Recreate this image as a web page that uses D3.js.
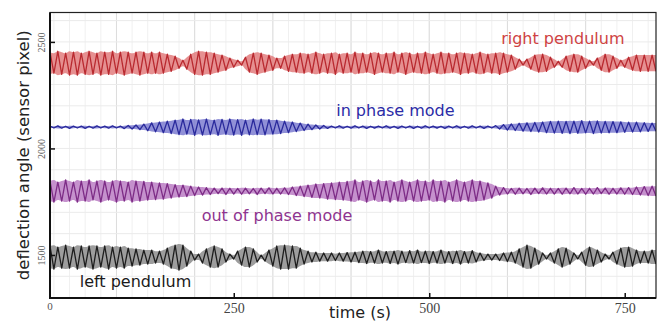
<!DOCTYPE html>
<html>
<head>
<meta charset="utf-8">
<script src="https://cdn.jsdelivr.net/npm/d3@7"></script>
<style>
  html, body { margin: 0; padding: 0; background: #fff; }
  svg { display: block; }
</style>
</head>
<body>
<div id="chart"></div>
<script>
const WIDTH = 659;
const HEIGHT = 322;
const MARGIN = {top: 12.5, right: 3, bottom: 24, left: 50};

// recordings are sampled once per swing peak
const SAMPLE_START = 15;
const SAMPLE_STEP = 5;

// peak deflection of each swing relative to the rest position (sensor pixel)
const rightPendulum = [
  52,-47,56,-52,47,-56,52,-56,47,-52,
  56,-52,47,-56,52,-52,56,-47,52,-56,
  52,-47,52,-56,52,-47,52,-47,52,-47,
  42,-38,33,-24,14,-28,42,-52,56,-56,
  52,-52,47,-42,38,-33,24,-19,14,-9,
  28,-42,47,-52,47,-42,38,-33,24,-24,
  33,-38,42,-42,47,-47,42,-47,52,-47,
  42,-47,47,-52,42,-47,47,-42,52,-47,
  47,-42,47,-52,47,-42,47,-47,52,-42,
  47,-52,47,-42,47,-47,52,-47,42,-47,
  52,-47,47,-42,47,-52,47,-47,42,-47,
  52,-47,42,-47,47,-52,47,-42,38,-28,
  19,-9,19,-28,38,-42,42,-38,28,-19,
  9,-19,33,-38,42,-42,33,-24,14,-9,
  24,-33,42,-42,33,-24,14,-19,28,-33,
  38,-38,38,-38,38,-38
];
const inPhaseMode = [
  5,-4,6,-5,4,-6,5,-4,5,-6,
  4,-5,6,-4,5,-5,6,-4,5,-7,
  8,-9,10,-12,14,-17,20,-22,24,-26,
  28,-30,33,-35,38,-33,36,-38,34,-37,
  38,-35,33,-38,36,-34,38,-37,35,-38,
  33,-36,38,-35,37,-36,35,-33,33,-30,
  28,-26,24,-21,19,-16,14,-12,10,-9,
  8,-6,5,-4,6,-5,4,-5,6,-4,
  5,-6,4,-5,5,-4,6,-5,4,-6,
  5,-4,5,-6,4,-5,6,-4,5,-5,
  4,-6,5,-4,6,-5,4,-5,6,-4,
  5,-6,5,-4,7,-9,12,-14,15,-16,
  18,-19,20,-21,22,-23,24,-26,27,-28,
  28,-29,27,-30,28,-29,30,-27,28,-30,
  29,-28,27,-27,26,-26,25,-24,23,-23,
  23,-22,21,-20,19,-19
];
const outOfPhaseMode = [
  47,-52,42,-47,52,-47,42,-52,47,-47,
  52,-42,47,-52,47,-42,47,-52,47,-47,
  42,-52,47,-47,45,-42,42,-40,38,-38,
  35,-33,30,-28,28,-26,23,-21,19,-19,
  16,-16,14,-12,14,-16,13,-14,12,-15,
  14,-13,12,-16,14,-12,15,-14,13,-14,
  15,-16,19,-21,23,-26,28,-30,33,-33,
  35,-38,38,-40,42,-42,45,-47,52,-42,
  47,-52,47,-42,52,-47,47,-52,42,-47,
  52,-47,42,-47,52,-47,47,-42,52,-47,
  47,-52,42,-47,52,-47,42,-47,52,-47,
  47,-42,38,-33,23,-19,16,-14,12,-15,
  14,-13,12,-16,14,-12,15,-14,13,-14,
  12,-15,14,-13,16,-14,12,-15,13,-14,
  16,-12,14,-15,13,-14,15,-15,16,-16,
  19,-19,21,-21,23,-23
];
const leftPendulum = [
  52,-56,47,-52,56,-52,47,-56,52,-47,
  52,-56,52,-47,52,-56,47,-52,47,-52,
  42,-42,38,-38,33,-33,33,-28,28,-33,
  42,-52,56,-61,56,-42,28,-14,14,-28,
  38,-47,52,-47,38,-23,14,-9,28,-38,
  47,-47,38,-23,9,-19,33,-42,52,-56,
  56,-56,52,-52,42,-33,28,-23,23,-19,
  19,-19,19,-16,19,-19,21,-23,23,-26,
  28,-30,26,-28,33,-28,26,-30,28,-33,
  28,-26,30,-28,33,-26,28,-30,26,-28,
  33,-28,26,-30,28,-33,26,-28,30,-23,
  19,-16,14,-14,14,-16,19,-21,23,-28,
  38,-47,56,-52,42,-33,19,-9,19,-28,
  38,-47,42,-33,19,-9,23,-38,47,-42,
  33,-23,14,-9,23,-33,42,-47,47,-42,
  33,-28,28,-28,33,-33
];

const seriesNames = ["right pendulum", "in phase mode", "out of phase mode", "left pendulum"];
const restLevels = [2400, 2100, 1800, 1490];
// where each name is written, in data coordinates [time, deflection]
const labelAnchors = [[592, 2490], [381, 2152], [209, 1660], [53, 1350]];

const xTicks = [250, 500, 750];
const yTicks = [1500, 2000, 2500];

const strokeColors = ["#b92a30", "#2a2a9c", "#7d2c86", "#1e1e1e"];
const fillColors = ["#e27c7e", "#7c7cd0", "#bb7ec4", "#8c8c8c"];
const textColors = ["#cf4343", "#2b2ba6", "#8e348f", "#1a1a1a"];

const values = [rightPendulum, inPhaseMode, outOfPhaseMode, leftPendulum];
const time = d3.range(rightPendulum.length).map(i => SAMPLE_START + i * SAMPLE_STEP);

const x = d3.scaleLinear()
    .domain([15, 790])
    .range([MARGIN.left, WIDTH - MARGIN.right]);

const y = d3.scaleLinear()
    .domain([1298, 2638])
    .range([HEIGHT - MARGIN.bottom, MARGIN.top]);

const svg = d3.select("#chart")
    .append("svg")
    .attr("width", WIDTH)
    .attr("height", HEIGHT)
    .attr("viewBox", `0 0 ${WIDTH} ${HEIGHT}`);

svg.append("clipPath")
    .attr("id", "plot-clip")
    .append("rect")
    .attr("x", x.range()[0])
    .attr("y", y.range()[1])
    .attr("width", x.range()[1] - x.range()[0])
    .attr("height", y.range()[0] - y.range()[1]);

// grid
const grid = svg.append("g");
grid.selectAll(".minor-x")
    .data(d3.range(20, 790, 20))
    .join("line")
    .attr("x1", d => x(d)).attr("x2", d => x(d))
    .attr("y1", y.range()[0]).attr("y2", y.range()[1])
    .attr("stroke", "#f0f0f0");
grid.selectAll(".major-x")
    .data(d3.range(100, 790, 100))
    .join("line")
    .attr("x1", d => x(d)).attr("x2", d => x(d))
    .attr("y1", y.range()[0]).attr("y2", y.range()[1])
    .attr("stroke", "#dcdcdc");
grid.selectAll(".major-y")
    .data(d3.range(1300, 2638, 100))
    .join("line")
    .attr("x1", x.range()[0]).attr("x2", x.range()[1])
    .attr("y1", d => y(d)).attr("y2", d => y(d))
    .attr("stroke", "#ebebeb");

// signals
const plot = svg.append("g").attr("clip-path", "url(#plot-clip)");

values.forEach((series, k) => {
    const points = series.map((v, i) => ({t: time[i], v: v}));
    const rest = restLevels[k];

    const envelope = d3.area()
        .x(d => x(d.t))
        .y0(d => y(rest - Math.abs(d.v)))
        .y1(d => y(rest + Math.abs(d.v)))
        .curve(d3.curveMonotoneX);

    const swing = d3.line()
        .x(d => x(d.t))
        .y(d => y(rest + d.v));

    plot.append("path")
        .datum(points)
        .attr("d", envelope)
        .attr("fill", fillColors[k])
        .attr("opacity", 0.85);

    plot.append("path")
        .datum(points)
        .attr("d", swing)
        .attr("fill", "none")
        .attr("stroke", strokeColors[k])
        .attr("stroke-width", 1.3)
        .attr("stroke-linejoin", "round");
});

// series names
svg.selectAll(".series-label")
    .data(seriesNames)
    .join("text")
    .attr("x", (d, i) => x(labelAnchors[i][0]))
    .attr("y", (d, i) => y(labelAnchors[i][1]))
    .attr("fill", (d, i) => textColors[i])
    .attr("font-family", "DejaVu Sans, Verdana, sans-serif")
    .attr("font-size", 16)
    .text(d => d);

// axes
const xAxis = svg.append("g")
    .attr("transform", `translate(0,${y.range()[0]})`)
    .call(d3.axisBottom(x).tickValues(xTicks).tickSizeInner(-5).tickSizeOuter(0).tickFormat(d3.format("d")));
xAxis.select(".domain").remove();
xAxis.selectAll(".tick line").attr("stroke", "#111").attr("stroke-width", 1.5);
xAxis.selectAll(".tick text")
    .attr("y", 5)
    .attr("fill", "#444")
    .attr("font-family", "Liberation Serif, Times New Roman, serif")
    .attr("font-size", 14);

// origin label sits at the left edge of the axis
svg.append("text")
    .attr("x", x.range()[0])
    .attr("y", y.range()[0] + 12)
    .attr("text-anchor", "middle")
    .attr("fill", "#555")
    .attr("font-family", "Liberation Serif, Times New Roman, serif")
    .attr("font-size", 11)
    .text("0");

const yAxis = svg.append("g")
    .attr("transform", `translate(${x.range()[0]},0)`)
    .call(d3.axisLeft(y).tickValues(yTicks).tickSizeInner(-5).tickSizeOuter(0).tickFormat(d3.format("d")));
yAxis.select(".domain").remove();
yAxis.selectAll(".tick line").attr("stroke", "#111").attr("stroke-width", 1.5);
yAxis.selectAll(".tick text")
    .attr("transform", "rotate(-90)")
    .attr("x", 0)
    .attr("y", -5)
    .attr("dy", 0)
    .attr("text-anchor", "middle")
    .attr("fill", "#555")
    .attr("font-family", "Liberation Serif, Times New Roman, serif")
    .attr("font-size", 10);

// frame
svg.append("rect")
    .attr("x", x.range()[0])
    .attr("y", y.range()[1])
    .attr("width", x.range()[1] - x.range()[0])
    .attr("height", y.range()[0] - y.range()[1])
    .attr("fill", "none")
    .attr("stroke", "#222")
    .attr("stroke-width", 1.2);
svg.append("path")
    .attr("d", `M${x.range()[0]},${y.range()[1]}V${y.range()[0]}H${x.range()[1]}`)
    .attr("fill", "none")
    .attr("stroke", "#111")
    .attr("stroke-width", 2);

// axis titles
svg.append("text")
    .attr("x", (x.range()[0] + x.range()[1]) / 2 + 7)
    .attr("y", HEIGHT - 4)
    .attr("text-anchor", "middle")
    .attr("fill", "#222")
    .attr("font-family", "DejaVu Sans, Verdana, sans-serif")
    .attr("font-size", 16)
    .text("time (s)");

svg.append("text")
    .attr("transform", `translate(29,${(y.range()[0] + y.range()[1]) / 2}) rotate(-90)`)
    .attr("text-anchor", "middle")
    .attr("fill", "#222")
    .attr("font-family", "DejaVu Sans, Verdana, sans-serif")
    .attr("font-size", 16.5)
    .text("deflection angle (sensor pixel)");
</script>
</body>
</html>
